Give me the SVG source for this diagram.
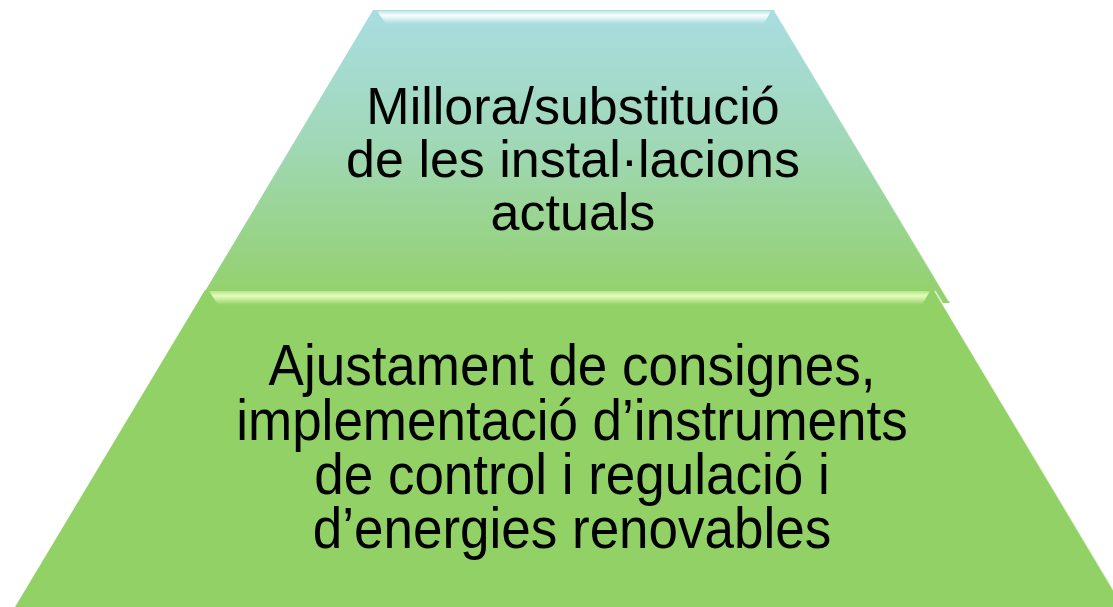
<svg xmlns="http://www.w3.org/2000/svg" width="1113" height="607" viewBox="0 0 1113 607">
<defs>
<linearGradient id="gTop" x1="0" y1="10" x2="0" y2="300" gradientUnits="userSpaceOnUse">
<stop offset="0" stop-color="#a9dde2"/>
<stop offset="0.45" stop-color="#a0d8b8"/>
<stop offset="1" stop-color="#93d16a"/>
</linearGradient>
<linearGradient id="bevTop" x1="0" y1="11" x2="0" y2="24" gradientUnits="userSpaceOnUse">
<stop offset="0" stop-color="#ffffff" stop-opacity="0.3"/>
<stop offset="0.35" stop-color="#ffffff" stop-opacity="0.95"/>
<stop offset="1" stop-color="#ffffff" stop-opacity="0"/>
</linearGradient>
<linearGradient id="bevBot" x1="0" y1="290" x2="0" y2="305" gradientUnits="userSpaceOnUse">
<stop offset="0" stop-color="#e8ffc0" stop-opacity="0.3"/>
<stop offset="0.4" stop-color="#eaffc0" stop-opacity="0.95"/>
<stop offset="1" stop-color="#eaffc0" stop-opacity="0"/>
</linearGradient>
<style>
.lbl{font-family:"Liberation Sans",Arial,sans-serif;fill:#000;text-anchor:middle}
.edge{fill:none;stroke:#ffffff;stroke-opacity:0.7;stroke-width:1.5}
</style>
</defs>
<g id="level-top">
<polygon points="373,10 774,10 950,303 198,303" fill="url(#gTop)"/>
<polygon points="377,11 771,11 764,24 386,24" fill="url(#bevTop)"/>
<line class="edge" x1="775" y1="11" x2="949" y2="301"/>
<text class="lbl" font-size="52" x="573"><tspan x="573" y="124">Millora/substitució</tspan><tspan x="573" y="177">de les instal·lacions</tspan><tspan x="573" y="230">actuals</tspan></text>
</g>
<g id="level-bottom">
<polygon points="205,290 934,290 1124,607 15,607" fill="#91d165"/>
<polygon points="209,291 930,291 922,305 218,305" fill="url(#bevBot)"/>
<line class="edge" x1="935" y1="291" x2="1123" y2="606"/>
<text class="lbl" font-size="53" transform="translate(572 0) scale(1 1.08) translate(-572 0)"><tspan x="572" y="356.5">Ajustament de consignes,</tspan><tspan x="572" y="407">implementació d’instruments</tspan><tspan x="572" y="457.5">de control i regulació i</tspan><tspan x="572" y="507.5">d’energies renovables</tspan></text>
</g>
<g id="connectors"/>
</svg>
